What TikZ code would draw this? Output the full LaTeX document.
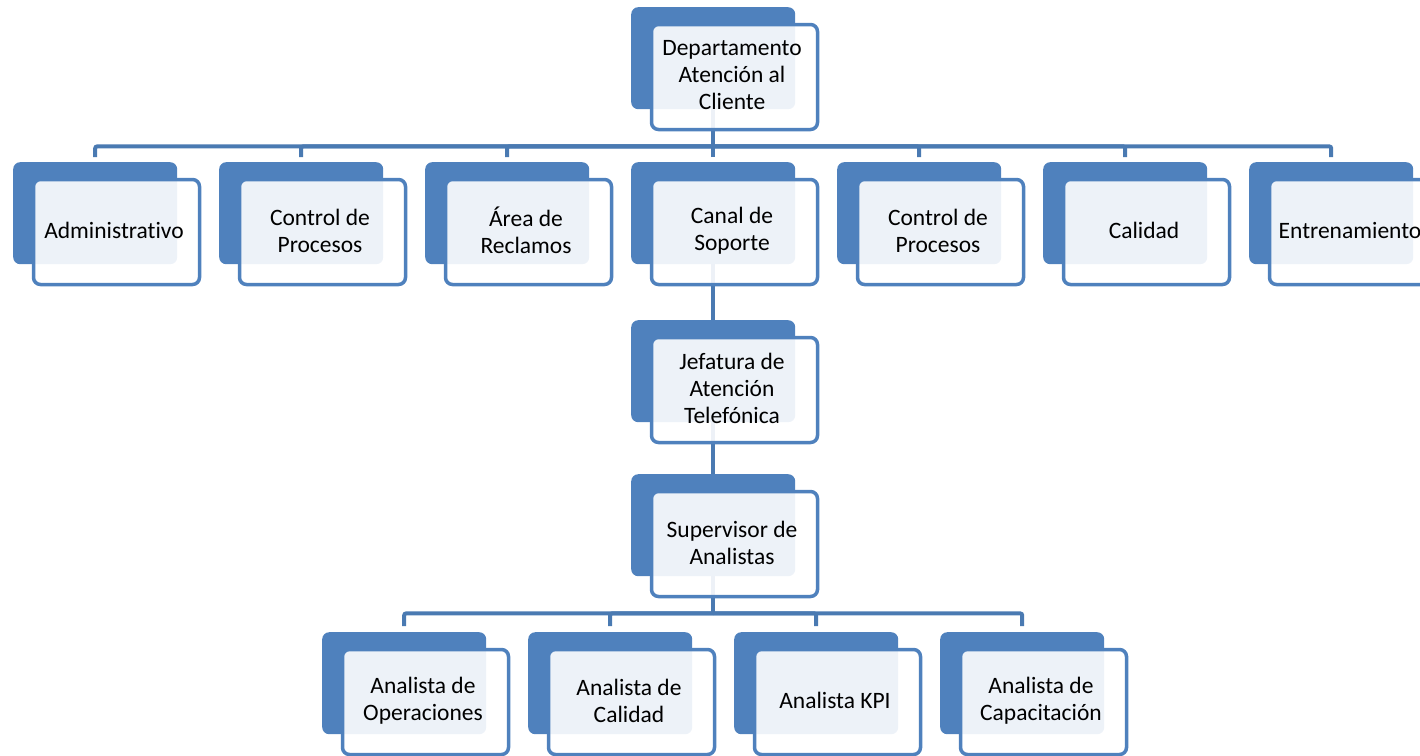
\documentclass[tikz,border=0pt]{standalone}
\usepackage{fontspec}
\setmainfont[Ligatures={NoCommon}]{Carlito}
\usetikzlibrary{backgrounds,calc}
\definecolor{accent}{HTML}{4F81BD}
\definecolor{linkblue}{HTML}{4A7AB2}
\tikzset{
  backbox/.style={rectangle, rounded corners=7pt, fill=accent,
    minimum width=164pt, minimum height=102pt, anchor=north west, inner sep=0pt},
  frontbox/.style={rectangle, rounded corners=7pt, draw=accent, line width=3.5pt,
    fill=white, fill opacity=0.9, minimum width=166pt,
    minimum height=105pt, anchor=north west, inner sep=0pt},
  label text/.style={align=center, inner sep=0pt, text=black,
    font=\fontsize{23.5}{27}\selectfont},
  link/.style={draw=linkblue, line width=4pt, rounded corners=2pt},
}
% #1 name, #2 left, #3 top of the shadow box, #4 label
\newcommand\orgunit[4]{%
  \node[backbox] (#1-b) at (#2,#3) {};
  \node[frontbox] (#1) at (#2+18.75,#3+15.75) {};
  \node[label text] (#1-t) at ($(#1.center)+(-2.5,-1.5)$) {#4};
}
\begin{document}
\begin{tikzpicture}[x=1pt,y=-1pt]
\useasboundingbox (0,0) rectangle (1420,755);

% top level
\orgunit{top}{631}{7}{Departamento\\Atención al\\Cliente}

% second level
\orgunit{adm}{13}{162}{Administrativo}
\orgunit{cpa}{219}{162}{Control de\\Procesos}
\orgunit{rec}{425}{162}{Área de\\Reclamos}
\orgunit{canal}{631}{162}{Canal de\\Soporte}
\orgunit{cpb}{837}{162}{Control de\\Procesos}
\orgunit{cal}{1043}{162}{Calidad}
\orgunit{ent}{1249}{162}{Entrenamiento}

% support chain
\orgunit{jef}{631}{320}{Jefatura de\\Atención\\Telefónica}
\orgunit{sup}{631}{474}{Supervisor de\\Analistas}

% analysts
\orgunit{ops}{322}{632}{Analista de\\Operaciones}
\orgunit{acal}{528}{632}{Analista de\\Calidad}
\orgunit{kpi}{734}{632}{Analista KPI}
\orgunit{acap}{940}{632}{Analista de\\Capacitación}

\begin{scope}[on background layer]
  \coordinate (hubA) at ($(top-b.south)+(0,37)$);
  \coordinate (hubB) at ($(sup-b.south)+(0,37)$);
  \draw[link] (top-b.south) -- (hubA);
  \foreach \n in {adm,cpa,rec,canal,cpb,cal,ent}
    \draw[link] ([yshift=5pt]\n-b.north) |- (hubA);
  \draw[link] (canal-b.south) -- (jef-b.north);
  \draw[link] (jef-b.south) -- (sup-b.north);
  \draw[link] (sup-b.south) -- (hubB);
  \foreach \n in {ops,acal,kpi,acap}
    \draw[link] ([yshift=6pt]\n-b.north) |- (hubB);
\end{scope}
\end{tikzpicture}
\end{document}
